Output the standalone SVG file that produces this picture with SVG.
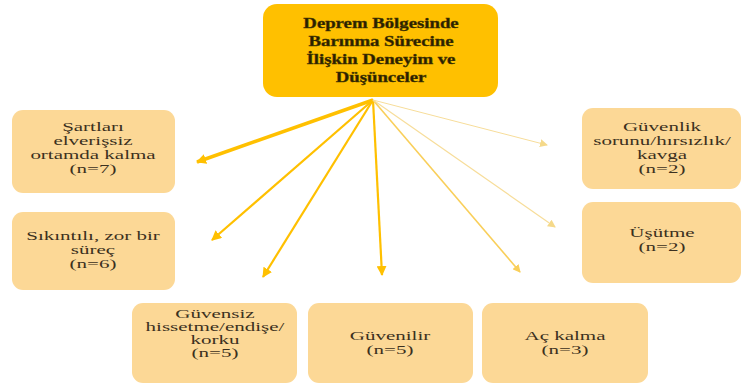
<svg xmlns="http://www.w3.org/2000/svg" width="741" height="387" viewBox="0 0 741 387">
<style>
.box{fill:#FCD896;}
.t{font-family:"Liberation Serif","Times New Roman",serif;font-size:12.5px;fill:#3b3020;text-anchor:middle;}
.s{font-size:12px;}
.title{font-family:"Liberation Serif","Times New Roman",serif;font-size:15px;font-weight:bold;fill:#2a1f00;text-anchor:middle;stroke:#4a3a00;stroke-width:0.4;}
.c1{stroke:#FFC000;fill:none;}
.c2{stroke:#F9CF5A;fill:none;}
.c3{stroke:#F7DD9A;fill:none;}
</style>
<defs>
<marker id="a1" markerUnits="userSpaceOnUse" markerWidth="12" markerHeight="10" refX="9" refY="5" orient="auto"><path d="M0,0 L10,5 L0,10 z" fill="#FFC000"/></marker>
<marker id="a2" markerUnits="userSpaceOnUse" markerWidth="10" markerHeight="8" refX="7" refY="4" orient="auto"><path d="M0,0 L8,4 L0,8 z" fill="#F9CF5A"/></marker>
<marker id="a3" markerUnits="userSpaceOnUse" markerWidth="10" markerHeight="8" refX="7" refY="4" orient="auto"><path d="M0,0 L8,4 L0,8 z" fill="#F5D98A"/></marker>
</defs>
<rect width="741" height="387" fill="#ffffff"/>
<g id="connectors">
<line class="c1" x1="373" y1="100" x2="197" y2="162" stroke-width="3.5" marker-end="url(#a1)"/>
<line class="c1" x1="373" y1="100" x2="212" y2="240" stroke-width="2.2" marker-end="url(#a1)"/>
<line class="c1" x1="373" y1="100" x2="263" y2="277" stroke-width="2.2" marker-end="url(#a1)"/>
<line class="c1" x1="373" y1="100" x2="382" y2="275" stroke-width="2.2" marker-end="url(#a1)"/>
<line class="c2" x1="373" y1="100" x2="520" y2="272" stroke-width="1.6" marker-end="url(#a2)"/>
<line class="c3" x1="373" y1="100" x2="555" y2="227" stroke-width="1.2" marker-end="url(#a3)"/>
<line class="c3" x1="373" y1="100" x2="547" y2="145" stroke-width="1" marker-end="url(#a3)"/>
</g>
<g id="center">
<rect x="263" y="4" width="235" height="93" rx="14" fill="#FFC000"/>
<text class="title" transform="translate(381,0) scale(1.25,1)"><tspan x="0" y="28">Deprem Bölgesinde</tspan><tspan x="0" y="46">Barınma Sürecine</tspan><tspan x="0" y="64">İlişkin Deneyim ve</tspan><tspan x="0" y="82">Düşünceler</tspan></text>
</g>
<g id="n1">
<rect class="box" x="12" y="110" width="163" height="83" rx="11"/>
<text class="t" transform="translate(93,0) scale(1.68,1)"><tspan x="0" y="131">Şartları</tspan><tspan x="0" y="145">elverişsiz</tspan><tspan x="0" y="159">ortamda kalma</tspan><tspan x="0" y="173">(n=7)</tspan></text>
</g>
<g id="n2">
<rect class="box" x="12" y="212" width="163" height="78" rx="11"/>
<text class="t" transform="translate(93,0) scale(1.68,1)"><tspan x="0" y="240">Sıkıntılı, zor bir</tspan><tspan x="0" y="254">süreç</tspan><tspan x="0" y="268">(n=6)</tspan></text>
</g>
<g id="n3">
<rect class="box" x="582" y="108" width="159" height="81" rx="11"/>
<text class="t" transform="translate(662,0) scale(1.68,1)"><tspan x="0" y="131">Güvenlik</tspan><tspan x="0" y="145">sorunu/hırsızlık/</tspan><tspan x="0" y="159">kavga</tspan><tspan x="0" y="173">(n=2)</tspan></text>
</g>
<g id="n4">
<rect class="box" x="582" y="202" width="159" height="81" rx="11"/>
<text class="t" transform="translate(662,0) scale(1.68,1)"><tspan x="0" y="237">Üşütme</tspan><tspan x="0" y="251">(n=2)</tspan></text>
</g>
<g id="n5">
<rect class="box" x="132" y="303" width="165" height="80" rx="11"/>
<text class="t s" transform="translate(215,0) scale(1.75,1)"><tspan x="0" y="318">Güvensiz</tspan><tspan x="0" y="331">hissetme/endişe/</tspan><tspan x="0" y="344">korku</tspan><tspan x="0" y="357">(n=5)</tspan></text>
</g>
<g id="n6">
<rect class="box" x="308" y="303" width="165" height="80" rx="11"/>
<text class="t" transform="translate(390,0) scale(1.68,1)"><tspan x="0" y="340">Güvenilir</tspan><tspan x="0" y="354">(n=5)</tspan></text>
</g>
<g id="n7">
<rect class="box" x="482" y="303" width="166" height="80" rx="11"/>
<text class="t" transform="translate(565,0) scale(1.68,1)"><tspan x="0" y="340">Aç kalma</tspan><tspan x="0" y="354">(n=3)</tspan></text>
</g>
</svg>
